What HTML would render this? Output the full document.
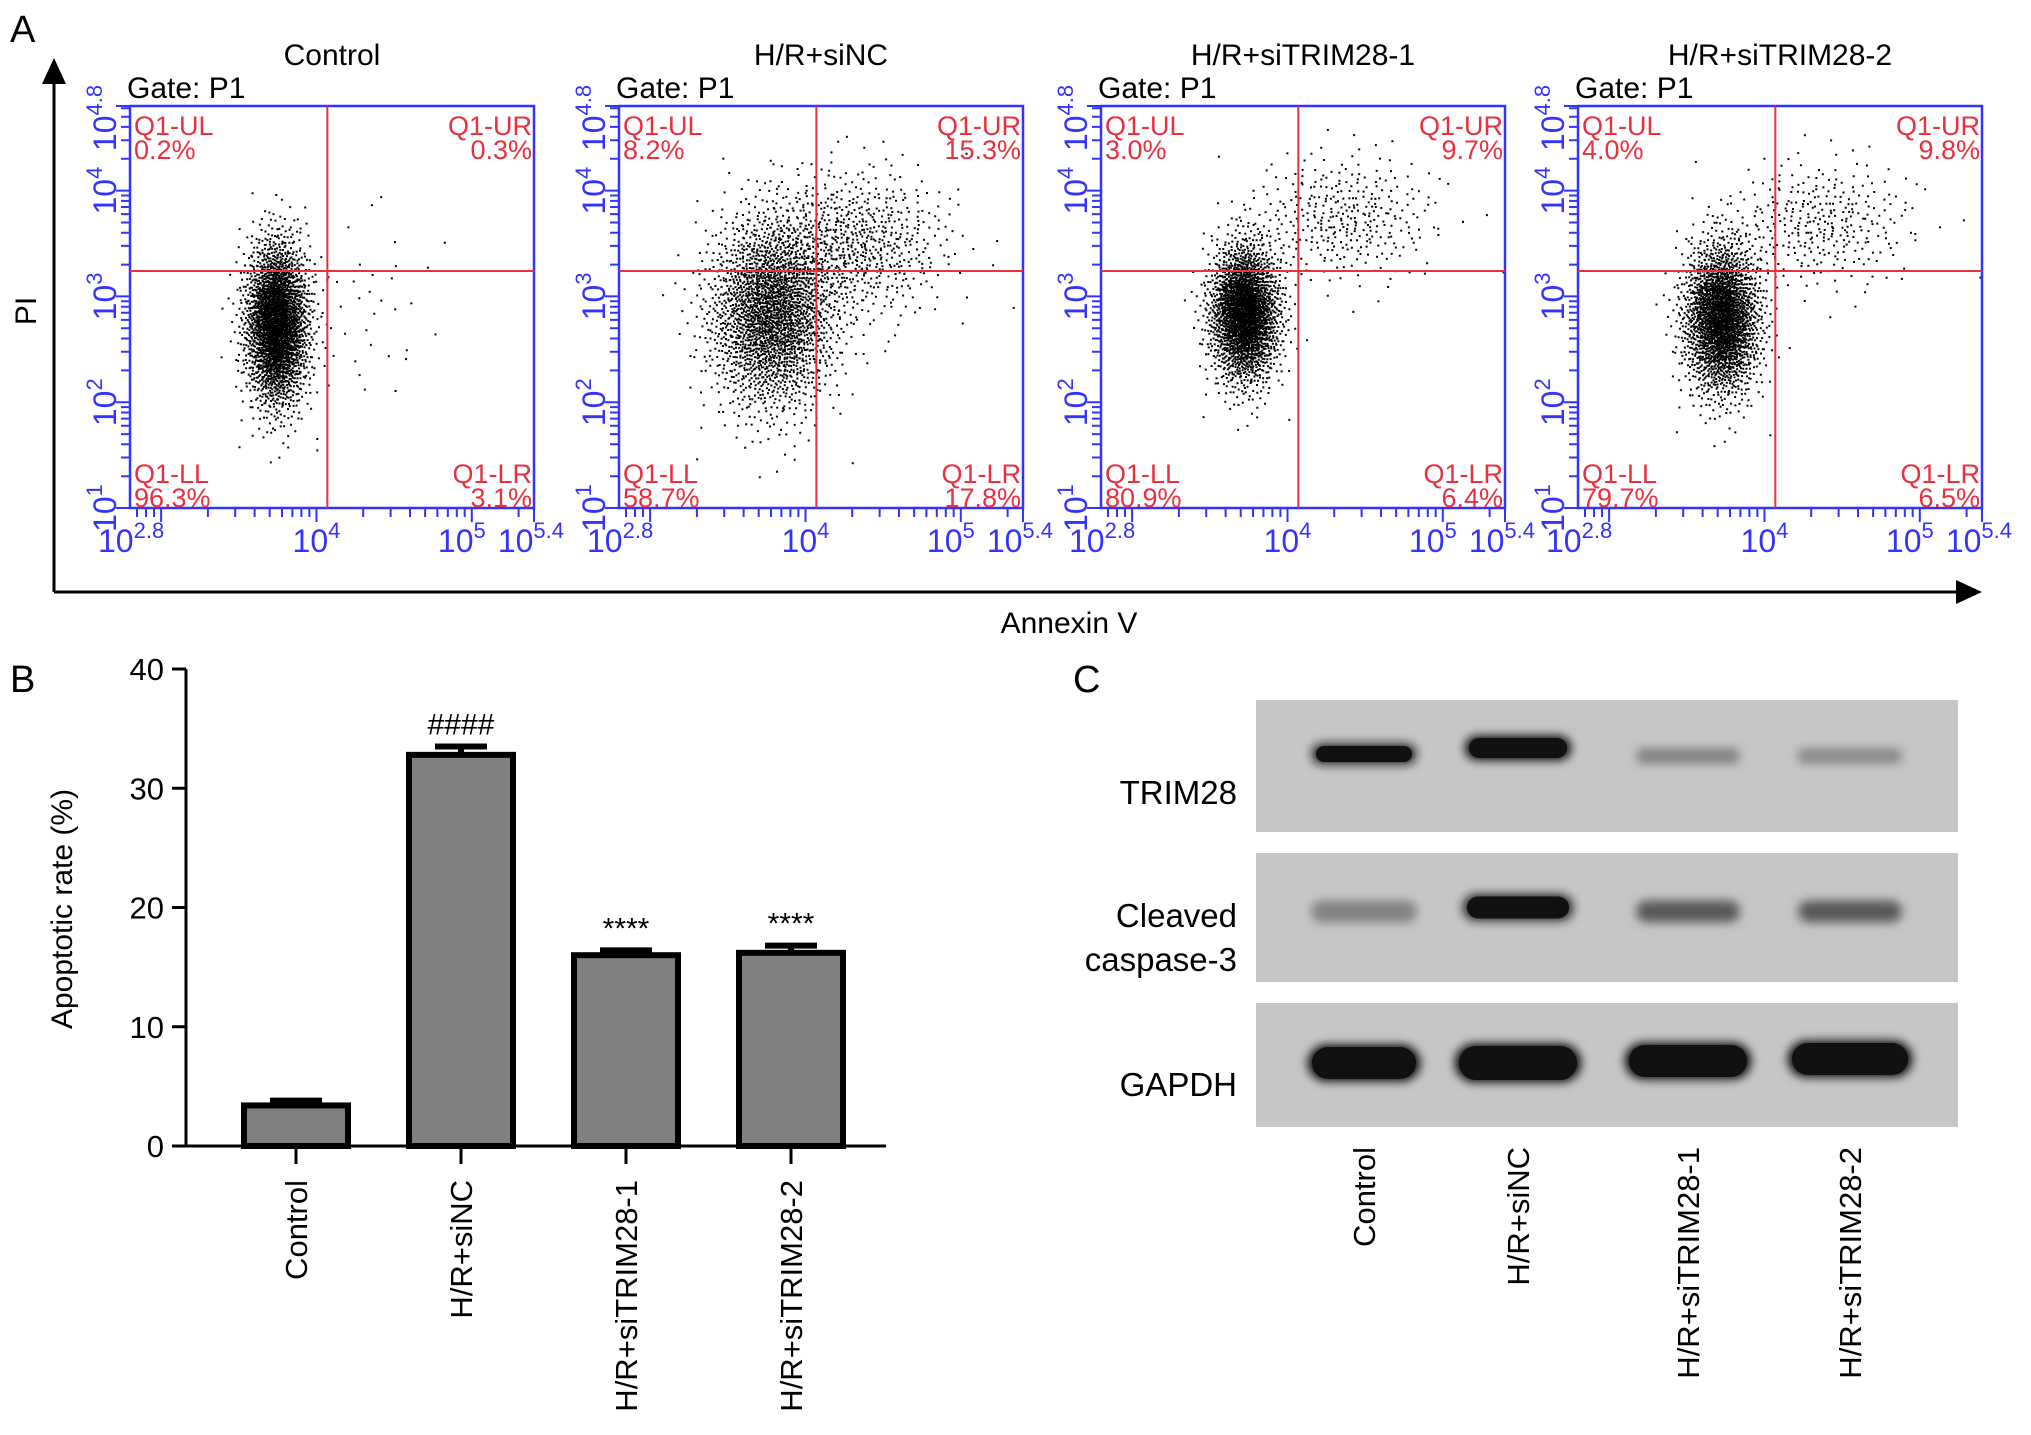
<!DOCTYPE html>
<html><head><meta charset="utf-8"><style>
body{margin:0;background:#fff}
svg{display:block;font-family:"Liberation Sans",Arial,sans-serif}
</style></head><body>
<svg id="fig" width="2031" height="1435" viewBox="0 0 2031 1435">
<defs>
<filter id="blur" x="-30%" y="-100%" width="160%" height="300%"><feGaussianBlur stdDeviation="5"/></filter>
</defs>
<text x="10" y="42" font-size="38">A</text>
<text x="10" y="692" font-size="38">B</text>
<text x="1073" y="692" font-size="38">C</text>
<line x1="54" y1="592" x2="54" y2="78" stroke="#000" stroke-width="3"/>
<path d="M42,84 L54,58 L66,84 z" fill="#000"/>
<line x1="54" y1="592" x2="1958" y2="592" stroke="#000" stroke-width="3"/>
<path d="M1956,580 L1982,592 L1956,604 z" fill="#000"/>
<text x="1069" y="633" font-size="30" text-anchor="middle">Annexin V</text>
<text transform="translate(36,311) rotate(-90)" font-size="30" text-anchor="middle">PI</text>
<g id="flow"></g>
<g id="bars"></g>
<g id="blot"></g>
</svg>
<script>
const NS="http://www.w3.org/2000/svg";
function mk(tag,attrs,parent,txt){const e=document.createElementNS(NS,tag);for(const k in attrs)e.setAttribute(k,attrs[k]);if(txt!==undefined)e.textContent=txt;parent.appendChild(e);return e;}

// ---------- Panel A data ----------
const flowTitles=["Control","H/R+siNC","H/R+siTRIM28-1","H/R+siTRIM28-2"];
const qUL=["0.2%","8.2%","3.0%","4.0%"];
const qUR=["0.3%","15.3%","9.7%","9.8%"];
const qLL=["96.3%","58.7%","80.9%","79.7%"];
const qLR=["3.1%","17.8%","6.4%","6.5%"];
const gateX=[4.07,4.07,4.07,4.07];
const gateY=[3.24,3.24,3.24,3.24];
const mainCx=[3.74,3.78,3.72,3.72];
const mainCy=[2.75,2.85,2.85,2.8];
const mainSx=[0.1,0.2,0.11,0.12];
const mainSy=[0.38,0.45,0.32,0.35];
const mainN=[2600,2300,2300,2300];
const tailCx=[4.3,4.3,4.35,4.35];
const tailCy=[2.9,3.5,3.75,3.7];
const tailSx=[0.25,0.3,0.3,0.3];
const tailSy=[0.5,0.35,0.3,0.3];
const tailN=[40,700,350,330];
const flowLeft=[130,619,1101,1578];
const xMin=2.8,xMax=5.4,yMin=1,yMax=4.8,fw=404,ftop=106,fbot=508;

function halton(i,b){let f=1,r=0;while(i>0){f/=b;r+=f*(i%b);i=Math.floor(i/b);}return r;}
function gauss(i,off){const u=Math.max(1e-6,halton(i+off,2)),v=halton(i+off,3);const r=Math.sqrt(-2*Math.log(u));return[r*Math.cos(2*Math.PI*v),r*Math.sin(2*Math.PI*v)];}

const flowG=document.getElementById('flow');
flowTitles.forEach((t,p)=>{
  const L=flowLeft[p];
  const sx=v=>L+(v-xMin)/(xMax-xMin)*fw;
  const sy=v=>fbot-(v-yMin)/(yMax-yMin)*(fbot-ftop);
  const g=mk('g',{},flowG);
  
  
  const tt=mk('text',{x:L+fw/2,y:65,'font-size':30,'text-anchor':'middle'},g,t);
  
  
  const gt=mk('text',{x:L-3,y:98,'font-size':30},g,'Gate: P1');
  
  
  let d='';
  function cloud(cx,cy,sdx,sdy,n,off){for(let i=1;i<=n;i++){const z=gauss(i,off);const x=cx+z[0]*sdx,y=cy+z[1]*sdy;if(x<xMin||x>xMax||y<yMin||y>yMax)continue;const px=sx(x),py=sy(y);d+='M'+px.toFixed(1)+','+py.toFixed(1)+'h2v2h-2z';}}
  cloud(mainCx[p],mainCy[p],mainSx[p],mainSy[p],mainN[p],17+p*7);
  cloud(tailCx[p],tailCy[p],tailSx[p],tailSy[p],tailN[p],5003+p*11);
  const pts=mk('path',{d:d,fill:'#000'},g);
  
  
  const fr=mk('rect',{x:L,y:ftop,width:fw,height:fbot-ftop,fill:'none',stroke:'#3333ff','stroke-width':2.5},g);
  
  
  const vq=mk('line',{x1:sx(gateX[p]),x2:sx(gateX[p]),y1:ftop,y2:fbot,stroke:'#e8303f','stroke-width':2},g);
  
  
  const hq=mk('line',{x1:L,x2:L+fw,y1:sy(gateY[p]),y2:sy(gateY[p]),stroke:'#e8303f','stroke-width':2},g);
  
  
  const qs=[[L+4,'start',135,'Q1-UL',qUL[p]],[L+fw-2,'end',135,'Q1-UR',qUR[p]],[L+4,'start',483,'Q1-LL',qLL[p]],[L+fw-2,'end',483,'Q1-LR',qLR[p]]];
  qs.forEach(q=>{
    const a=mk('text',{x:q[0],y:q[2],'font-size':27,fill:'#e8303f','text-anchor':q[1]},g,q[3]);
    
    
    const b=mk('text',{x:q[0],y:q[2]+24,'font-size':27,fill:'#e8303f','text-anchor':q[1]},g,q[4]);
    
    
  });
  let td='';
  for(let dec=2;dec<=5;dec++)for(let m=1;m<10;m++){const v=dec+Math.log10(m);if(v<xMin||v>xMax)continue;const len=m===1?14:9;td+='M'+sx(v).toFixed(1)+','+fbot+'v'+len;}
  td+='M'+sx(5.4)+','+fbot+'v14';
  for(let dec=1;dec<=4;dec++)for(let m=1;m<10;m++){const v=dec+Math.log10(m);if(v<yMin||v>yMax)continue;const len=m===1?14:9;td+='M'+L+','+sy(v).toFixed(1)+'h-'+len;}
  td+='M'+L+','+sy(4.8)+'h-14';
  const tk=mk('path',{d:td,stroke:'#3333ff','stroke-width':2,fill:'none'},g);
  
  
  [[2.8,'2.8','start'],[4,'4','middle'],[5,'5','middle'],[5.4,'5.4','end']].forEach(a=>{
    let x=sx(a[0]); if(a[0]===2.8)x-=32; if(a[0]===5.4)x+=30;if(a[0]===5)x-=10;
    const tx=mk('text',{x:x,y:552,'font-size':32,fill:'#3333ff','text-anchor':a[2]},g);
    
    
    mk('tspan',{},tx,'10');mk('tspan',{dy:-14,'font-size':22},tx,a[1]);
  });
  [[1,'1'],[2,'2'],[3,'3'],[4,'4'],[4.8,'4.8']].forEach(a=>{
    const y=sy(a[0])+(a[0]===4.8?12:0);
    const tx=mk('text',{transform:'translate('+(L-14)+','+y+') rotate(-90)','font-size':32,fill:'#3333ff','text-anchor':'middle'},g);
    
    
    mk('tspan',{},tx,'10');mk('tspan',{dy:-14,'font-size':22},tx,a[1]);
  });
});

// ---------- Panel B data ----------
const barCats=["Control","H/R+siNC","H/R+siTRIM28-1","H/R+siTRIM28-2"];
const barVals=[3.4,32.8,16.0,16.2];
const barErr=[0.4,0.7,0.4,0.6];
const barMarks=["","####","****","****"];
const yTicks=[0,10,20,30,40];
const bg=document.getElementById('bars');
const bx0=186,by0=1146,by40=669,bxEnd=886;
const byS=v=>by0-(v/40)*(by0-by40);
const slotW=165, barW=104;
const bxC=i=>296+slotW*i;
barCats.forEach((c,i)=>{
  const x=bxC(i),top=byS(barVals[i]);
  const r=mk('rect',{x:x-barW/2,y:top,width:barW,height:by0-top,fill:'#808080',stroke:'#000','stroke-width':6},bg);
  
  
  const ey=byS(barVals[i]+barErr[i]);
  const eb=mk('path',{d:'M'+x+','+top+'V'+ey+'M'+(x-26)+','+ey+'H'+(x+26),stroke:'#000','stroke-width':6,fill:'none'},bg);
  
  
  if(barMarks[i]){const m=mk('text',{x:x,y:ey-12,'font-size':30,'text-anchor':'middle'},bg,barMarks[i]);
    
    }
  const tk=mk('line',{x1:x,x2:x,y1:by0,y2:by0+18,stroke:'#000','stroke-width':3},bg);
  
  
  const lb=mk('text',{transform:'translate('+(x+11)+',1180) rotate(-90)','font-size':31,'text-anchor':'end'},bg,c);
  
  
});
const ax=mk('path',{d:'M'+bx0+','+by40+'V'+by0+'H'+bxEnd,stroke:'#000','stroke-width':3,fill:'none'},bg);


yTicks.forEach(v=>{
  const y=byS(v);
  const t=mk('line',{x1:bx0-14,x2:bx0,y1:y,y2:y,stroke:'#000','stroke-width':3},bg);
  
  
  const l=mk('text',{x:bx0-22,y:y+11,'font-size':31,'text-anchor':'end'},bg,String(v));
  
  
});
const yt=mk('text',{transform:'translate(72,909) rotate(-90)','font-size':30,'text-anchor':'middle'},bg,'Apoptotic rate (%)');



// ---------- Panel C data ----------
const laneNames=["Control","H/R+siNC","H/R+siTRIM28-1","H/R+siTRIM28-2"];
const trimInt=[0.9,1.0,0.35,0.3];
const cleavedInt=[0.35,0.85,0.55,0.55];
const gapdhInt=[1,1,1,1];
const blg=document.getElementById('blot');
const laneX=[1364,1518,1688,1850];
const rows=[{name:'TRIM28',y:700,h:132,vals:trimInt,bw:[104,106,104,106],bh:[20,24,16,16],by:[-12,-18,-10,-10]},
 {name:'Cleaved caspase-3',y:853,h:129,vals:cleavedInt,bw:[106,110,104,104],bh:[22,26,22,22],by:[-6,-10,-6,-6]},
 {name:'GAPDH',y:1003,h:124,vals:gapdhInt,bw:[112,126,126,124],bh:[36,38,36,36],by:[-2,-2,-4,-6]}];
rows.forEach((r,ri)=>{
  const pr=mk('rect',{x:1256,y:r.y,width:702,height:r.h,fill:'#c6c6c6'},blg);
  
  
  r.vals.forEach((v,i)=>{
    const c=Math.round(198-198*v);
    const b=mk('rect',{x:laneX[i]-r.bw[i]/2,y:r.y+r.h/2+r.by[i]-r.bh[i]/2,width:r.bw[i],height:r.bh[i],rx:r.bh[i]/2,fill:'rgb('+c+','+c+','+c+')',filter:'url(#blur)'},blg);
    
    
    if(v>0.8){const b2=mk('rect',{x:laneX[i]-r.bw[i]/2+4,y:r.y+r.h/2+r.by[i]-r.bh[i]/2+2,width:r.bw[i]-8,height:r.bh[i]-4,rx:(r.bh[i]-4)/2,fill:'#111'},blg);
      
      }
  });
});
[['TRIM28',804],['Cleaved',927],['caspase-3',971],['GAPDH',1096]].forEach(l=>{
  const t=mk('text',{x:1237,y:l[1],'font-size':33,'text-anchor':'end'},blg,l[0]);
  
  
});
laneNames.forEach((n,i)=>{
  const t=mk('text',{transform:'translate('+(laneX[i]+11)+',1147) rotate(-90)','font-size':31,'text-anchor':'end'},blg,n);
  
  
});
</script>
</body></html>
